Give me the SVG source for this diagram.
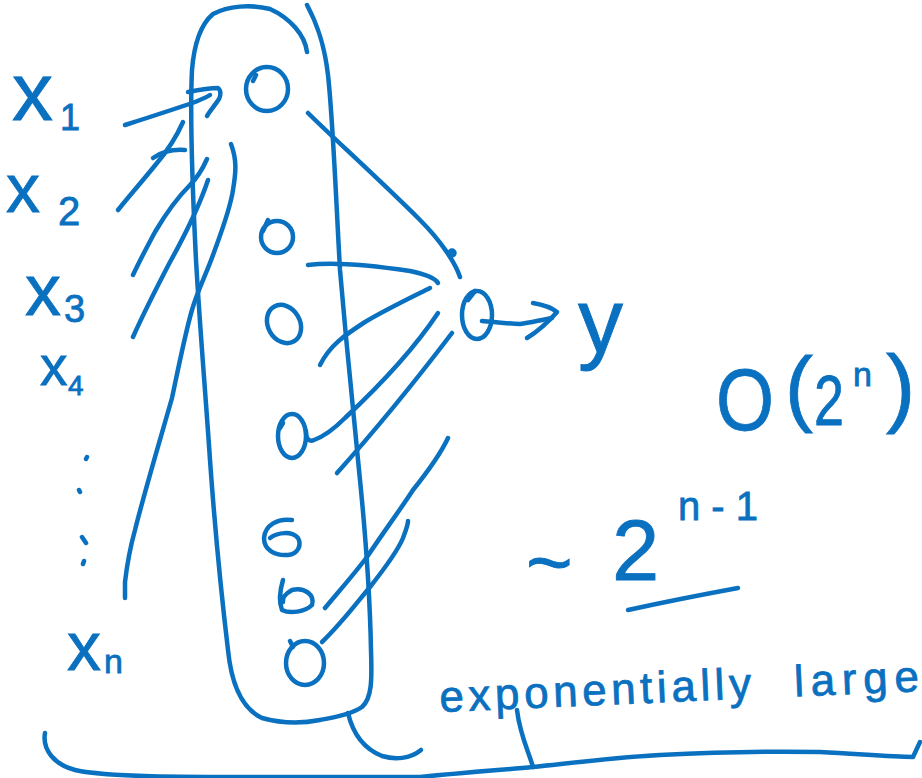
<svg xmlns="http://www.w3.org/2000/svg" width="922" height="778" viewBox="0 0 922 778">
<style>
.s{fill:none;stroke:#0a70c0;stroke-width:4.5;stroke-linecap:round;stroke-linejoin:round}
.t{fill:#0a70c0;stroke:#0a70c0;stroke-width:0.8;font-family:"Liberation Sans","DejaVu Sans",sans-serif}
</style>
<rect width="922" height="778" fill="#ffffff"/>
<g id="hidden-layer">
<path class="s" d="M307,52 C305,35 290,18 270,9 C250,4 228,6 213,14 C200,25 194,45 192,70 C190,110 192,180 196,260 C200,330 206,400 210,460 C215,530 222,600 228,650 C232,690 245,710 262,718 C280,723 300,724 320,720 C335,717 352,714 362,707 C372,698 372,680 371,650 C370,600 366,540 360,480 C352,400 346,340 340,270 C336,200 333,120 328,75 C324,40 315,20 307,5"/>
</g>
<g id="n1"><ellipse class="s" cx="267" cy="89" rx="21" ry="22"/><path class="s" d="M256,75 L253,81"/></g>
<g id="n2"><ellipse class="s" cx="277" cy="237" rx="16" ry="16"/><path class="s" d="M268,220 L263,231"/></g>
<g id="n3"><ellipse class="s" cx="284" cy="324" rx="16" ry="20" transform="rotate(-30 284 324)"/></g>
<g id="n4"><ellipse class="s" cx="292" cy="436" rx="14" ry="22"/><path class="s" d="M283,423 L280,428"/></g>
<g id="n5"><path class="s" d="M292,520 C278,518 265,525 264,538 C264,550 275,556 288,555 C298,554 302,545 298,538 C292,531 278,532 270,538"/></g>
<g id="n6"><path class="s" d="M283,580 C280,590 278,600 282,610 C290,614 305,612 312,605 C315,595 305,587 292,590 C285,594 282,598 283,602"/></g>
<g id="n7"><ellipse class="s" cx="305" cy="663" rx="19" ry="22"/><path class="s" d="M290,641 L293,647"/></g>
<g id="out"><ellipse class="s" cx="477" cy="315" rx="15" ry="24"/><path class="s" d="M475,291 L468,300"/></g>
<g id="connectors">
<path class="s" d="M308,113 C330,135 380,180 420,220 C440,240 455,262 460,277"/>
<circle class="s" cx="452" cy="253" r="2.5"/>
<path class="s" d="M308,265 C330,262 370,265 410,271 C425,274 435,278 438,283"/>
<path class="s" d="M320,365 C330,345 345,335 365,322 C385,310 410,298 430,288"/>
<path class="s" d="M306,431 C306,440 310,442 314,440 C325,436 335,428 345,418 C375,390 410,355 438,313"/>
<path class="s" d="M337,473 C380,425 420,375 452,333"/>
<path class="s" d="M325,608 C340,590 355,573 367,557 C385,530 400,510 413,490 C425,475 440,455 448,438"/>
<path class="s" d="M322,642 C340,625 355,605 370,587 C385,568 398,550 403,538 C406,530 408,525 408,521"/>
<path class="s" d="M482,321 C495,322 510,324 520,324 C530,323 540,320 552,318"/>
<path class="s" d="M533,303 C545,305 552,308 557,312 C550,320 540,330 527,338"/>
<path class="s" d="M125,125 C150,117 175,109 195,102 C202,99 207,97 210,95"/>
<path class="s" d="M188,92 C198,90 210,88 218,88 C221,90 221,95 219,99 C215,105 210,111 207,116"/>
<path class="s" d="M118,210 C130,195 145,178 157,163 C168,150 175,140 183,122"/>
<path class="s" d="M153,158 C160,153 170,149 185,150"/>
<path class="s" d="M133,275 C140,260 148,245 155,232 C165,215 175,200 190,185 C197,178 203,168 207,159"/>
<path class="s" d="M133,337 C145,310 158,285 170,262 C185,235 198,210 208,180"/>
<path class="s" d="M125,598 L125,582 C127,565 130,548 135,530 C145,490 160,440 172,398 C180,360 186,330 192,310 C197,292 207,272 213,255 C222,230 230,210 233,190 C236,172 237,160 231,144"/>
<path class="s" d="M628,610 C660,603 700,595 738,588"/>
<path class="s" d="M348,713 C352,730 362,748 382,756 C395,760 410,759 421,750"/>
<path class="s" d="M45,733 C42,750 55,765 75,770 C110,778 200,777 300,777 L420,777 C470,772 500,770 533,767 C580,762 620,757 660,755 C720,752 770,751 820,752 C860,754 890,757 913,757 L920,742"/>
<path class="s" d="M533,767 C528,750 520,735 517,710"/>
<path class="s" d="M87,457 L86,459 M79,490 L80,492 M82,537 L86,543 M84,561 L83,564"/>
</g>
<g id="labels">
<text class="t" x="12" y="120" font-size="82">x</text><text class="t" x="60" y="130" font-size="36">1</text>
<text class="t" x="6" y="212" font-size="68">x</text><text class="t" x="58" y="225" font-size="40">2</text>
<text class="t" x="25" y="315" font-size="72">x</text><text class="t" x="64" y="322" font-size="38">3</text>
<text class="t" x="40" y="385" font-size="55">x</text><text class="t" x="68" y="395" font-size="28">4</text>
<text class="t" x="67" y="670" font-size="68">x</text><text class="t" x="104" y="673" font-size="34">n</text>
<text class="t" x="578" y="352" font-size="90">y</text>
<text class="t" x="716" y="430" font-size="88" textLength="58" lengthAdjust="spacingAndGlyphs">O</text>
<text class="t" x="785" y="416" font-size="84">(</text>
<text class="t" x="814" y="425" font-size="70" textLength="30" lengthAdjust="spacingAndGlyphs">2</text>
<text class="t" x="853" y="386" font-size="34">n</text>
<text class="t" x="886" y="416" font-size="88">)</text>
<text class="t" x="526" y="590" font-size="80">~</text>
<text class="t" x="612" y="580" font-size="85">2</text>
<text class="t" x="678" y="520" font-size="40">n - 1</text>
<g transform="rotate(-2.5 440 712)">
<text class="t" x="440" y="712" font-size="44" textLength="312" lengthAdjust="spacing">exponentially</text>
<text class="t" x="795" y="712" font-size="44" textLength="125" lengthAdjust="spacing">large</text>
</g>
</g>
</svg>
